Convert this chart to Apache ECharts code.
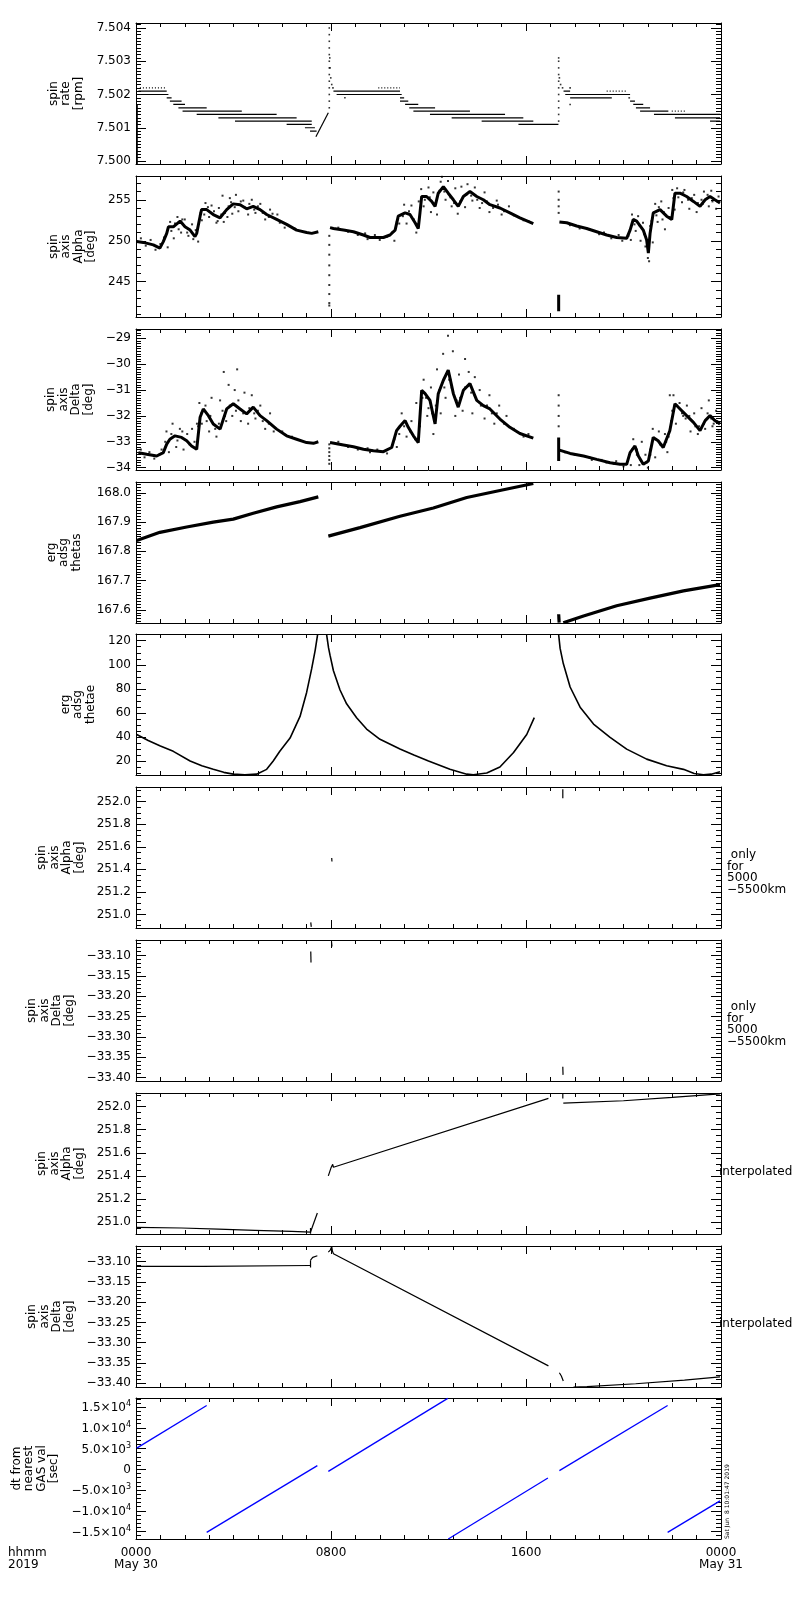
<!DOCTYPE html>
<html>
<head>
<meta charset="utf-8">
<title>ERG spin axis</title>
<script src="https://cdn.jsdelivr.net/npm/echarts@6.0.0/dist/echarts.min.js"></script>
<style>
    html, body { margin: 0; padding: 0; background: #fff; }
    #main { width: 800px; height: 1600px; }
</style>
</head>
<body>
<div id="main"></div>
<script>
// all times are hours since 2019-05-30 00:00
var hourLabels = {0: '0000\nMay 30', 8: '0800', 16: '1600', 24: '0000\nMay 31'};

// panel 1: spin rate, quantised levels  [h start, h end, rpm]
var rateSteps = [
    [0.10, 1.26, 7.5021], [0.16, 1.33, 7.5020], [1.26, 1.46, 7.5019], [1.39, 1.87, 7.5018],
    [1.53, 2.01, 7.5017], [1.74, 2.90, 7.5016], [1.91, 4.34, 7.5015], [2.49, 5.77, 7.5014],
    [3.38, 6.59, 7.5013], [4.06, 7.21, 7.5012], [6.18, 7.21, 7.5011], [6.93, 7.34, 7.5010],
    [7.14, 7.41, 7.5009],
    [8.10, 10.83, 7.5021], [8.23, 10.90, 7.5020], [10.83, 11.00, 7.5019], [10.83, 11.17, 7.5018],
    [11.04, 11.58, 7.5017], [11.21, 12.27, 7.5016], [11.38, 13.70, 7.5015], [12.06, 15.14, 7.5014],
    [12.95, 15.89, 7.5013], [14.18, 16.30, 7.5012], [15.69, 17.33, 7.5011],
    [17.54, 17.81, 7.5021], [17.61, 20.27, 7.5020], [17.81, 19.52, 7.5019], [20.20, 20.27, 7.5019],
    [20.27, 20.47, 7.5018], [20.40, 20.81, 7.5017], [20.51, 21.09, 7.5016], [20.68, 21.84, 7.5015],
    [21.25, 23.96, 7.5014], [22.11, 23.96, 7.5013], [23.55, 23.96, 7.5012]
];
var rateDotted = [[0.16, 1.26, 7.5022], [9.94, 10.83, 7.5022], [19.31, 20.13, 7.5021], [21.98, 22.52, 7.5015]];
var rateLines = [
    [[0.05, 7.49991], [0.05, 7.5017]],
    [[7.38, 7.50073], [7.89, 7.50145]]
];
var rateDots = [
    [7.93, 7.5016], [7.93, 7.5018], [7.93, 7.5020], [7.93, 7.5022], [7.93, 7.5024], [7.93, 7.5026],
    [7.93, 7.5028], [7.93, 7.5030], [7.93, 7.5032], [7.93, 7.5034], [7.93, 7.5036], [7.93, 7.5038],
    [7.93, 7.5040], [7.95, 7.5031], [7.96, 7.5028], [7.99, 7.5025], [8.03, 7.5023], [8.08, 7.5022],
    [8.57, 7.5019],
    [17.34, 7.5012], [17.34, 7.5014], [17.34, 7.5016], [17.34, 7.5018], [17.34, 7.5020], [17.34, 7.5022],
    [17.34, 7.5024], [17.34, 7.5026], [17.34, 7.5028], [17.34, 7.5030], [17.34, 7.5031], [17.37, 7.5025],
    [17.42, 7.5023], [17.50, 7.5022], [17.81, 7.5022], [17.81, 7.5017]
];

// panel 2: spin axis alpha
var alphaTrace = [
    [[0.03, 249.9], [0.30, 249.8], [0.71, 249.5], [0.98, 249.1], [1.12, 249.9], [1.26, 250.9], [1.33, 251.7],
     [1.53, 251.7], [1.81, 252.4], [2.01, 251.7], [2.22, 251.3], [2.42, 250.5], [2.49, 250.9], [2.63, 253.0],
     [2.69, 253.8], [2.90, 253.8], [3.17, 253.2], [3.45, 252.8], [3.72, 253.8], [3.99, 254.5], [4.27, 254.4],
     [4.54, 253.9], [4.81, 254.2], [5.09, 253.8], [5.36, 253.2], [5.77, 252.6], [6.18, 252.0], [6.59, 251.3],
     [7.00, 251.0], [7.21, 250.9], [7.48, 251.1]],
    [[7.96, 251.6], [8.10, 251.5], [8.51, 251.3], [8.92, 251.1], [9.33, 250.7], [9.60, 250.4], [9.87, 250.4],
     [10.15, 250.4], [10.42, 250.7], [10.63, 251.3], [10.76, 253.0], [10.83, 253.0], [11.04, 253.4], [11.24, 253.2],
     [11.45, 252.2], [11.58, 251.5], [11.65, 253.4], [11.72, 255.4], [11.92, 255.4], [12.13, 254.8], [12.27, 254.2],
     [12.40, 255.8], [12.61, 256.6], [12.81, 255.8], [13.02, 255.0], [13.22, 254.2], [13.43, 255.4], [13.70, 256.0],
     [13.98, 255.4], [14.25, 255.0], [14.52, 254.4], [14.93, 254.0], [15.34, 253.4], [15.75, 252.8], [16.30, 252.1]],
    [[17.37, 252.3], [17.67, 252.2], [18.08, 251.8], [18.49, 251.5], [18.90, 251.1], [19.31, 250.7], [19.72, 250.4],
     [20.13, 250.3], [20.27, 251.3], [20.40, 252.6], [20.54, 252.4], [20.81, 251.3], [20.95, 250.1], [21.02, 248.5],
     [21.09, 250.9], [21.22, 253.4], [21.50, 253.8], [21.77, 253.0], [21.98, 252.6], [22.11, 255.8], [22.32, 255.8],
     [22.59, 255.4], [22.87, 254.8], [23.14, 254.2], [23.35, 255.0], [23.55, 255.4], [23.75, 255.0], [23.96, 254.6]],
    [[17.34, 243.4], [17.34, 241.4]]
];
var alphaDots = [
    [1.30, 249.2], [1.40, 252.3], [1.55, 250.3], [1.70, 252.9], [1.85, 251.0], [2.00, 252.6], [2.15, 250.6],
    [2.30, 252.0], [2.55, 249.9], [2.70, 252.5], [2.85, 254.6], [3.00, 252.9], [3.10, 254.3], [3.30, 252.2],
    [3.40, 254.0], [3.55, 255.5], [3.60, 252.3], [3.75, 252.9], [3.85, 255.2], [3.95, 253.3], [4.10, 255.6],
    [4.20, 253.6], [4.40, 254.9], [4.60, 253.2], [4.75, 255.0], [4.90, 253.4], [5.10, 254.5], [5.30, 252.6],
    [5.50, 253.8], [5.80, 253.2], [6.10, 251.6],
    [10.60, 250.0], [10.80, 252.1], [11.00, 254.4], [11.10, 252.1], [11.30, 254.3], [11.50, 251.0], [11.70, 256.3],
    [11.80, 254.2], [12.00, 256.5], [12.10, 253.5], [12.20, 255.9], [12.35, 253.2], [12.50, 257.2], [12.55, 257.8],
    [12.70, 255.0], [12.80, 257.3], [12.95, 254.2], [13.10, 256.4], [13.20, 253.3], [13.35, 256.6], [13.50, 254.1],
    [13.60, 256.9], [13.80, 254.9], [13.90, 256.5], [14.10, 254.0], [14.30, 255.9], [14.50, 253.5], [14.80, 254.9],
    [15.00, 253.2], [15.30, 254.2],
    [20.30, 250.1], [20.35, 253.2], [20.50, 251.2], [20.60, 253.0], [20.70, 250.0], [20.80, 252.2], [20.90, 249.3],
    [21.00, 247.9], [21.05, 247.5], [21.10, 251.8], [21.20, 249.8], [21.30, 254.5], [21.40, 252.3], [21.55, 254.8],
    [21.60, 252.6], [21.70, 251.4], [21.85, 254.0], [22.00, 256.2], [22.10, 253.8], [22.20, 256.4], [22.40, 254.7],
    [22.50, 256.2], [22.70, 253.9], [22.90, 255.6], [23.00, 253.5], [23.20, 255.0], [23.30, 256.0], [23.50, 254.2],
    [23.60, 256.1], [23.80, 253.9], [23.90, 255.4],
    [0.20, 250.3], [0.40, 249.4], [0.60, 250.1], [0.80, 248.9], [1.00, 249.6], [1.15, 250.4], [1.45, 251.2],
    [1.60, 252.1], [1.75, 251.4], [1.90, 252.6], [2.10, 251.0], [2.35, 250.2], [2.45, 251.3], [2.65, 253.4],
    [2.80, 253.2], [2.95, 254.1], [3.20, 253.6], [3.35, 252.4], [3.50, 253.2], [3.65, 253.4], [3.80, 254.2],
    [3.90, 254.7], [4.05, 254.1], [4.30, 254.8], [4.45, 254.1], [4.65, 254.5], [4.85, 253.8], [5.00, 254.2],
    [5.20, 253.4], [5.45, 252.9], [5.60, 253.3], [5.90, 252.2], [6.30, 251.8], [6.50, 251.5],
    [8.30, 251.6], [8.70, 251.1], [9.10, 250.7], [9.40, 250.9], [9.50, 250.2], [9.80, 250.7], [10.00, 250.1],
    [10.30, 250.5], [10.50, 251.0], [10.70, 252.3], [10.95, 253.0], [11.20, 253.6], [11.40, 252.6], [11.60, 254.8],
    [11.85, 255.0], [12.05, 255.3], [12.30, 254.6], [12.45, 256.1], [12.65, 256.0], [12.90, 255.3], [13.05, 254.6],
    [13.30, 254.8], [13.55, 255.6], [13.75, 255.5], [14.00, 255.0], [14.20, 254.6], [14.40, 254.8], [14.65, 254.0],
    [14.85, 254.4], [15.10, 253.6], [15.50, 253.1], [15.90, 252.5], [16.10, 252.4],
    [17.80, 251.9], [18.20, 251.5], [18.60, 251.4], [19.00, 250.8], [19.20, 251.0], [19.50, 250.3], [19.80, 250.7],
    [19.95, 250.0], [20.20, 250.6], [20.45, 252.0], [20.65, 251.9], [20.85, 250.8], [21.15, 252.4], [21.35, 253.1],
    [21.45, 254.1], [21.65, 253.5], [21.90, 252.9], [22.05, 255.2], [22.25, 255.3], [22.45, 255.9], [22.65, 255.0],
    [22.80, 255.2], [23.05, 254.6], [23.25, 254.5], [23.45, 255.6], [23.65, 254.8], [23.85, 254.8],
    [7.93, 250.6], [7.93, 249.5], [7.93, 248.3], [7.93, 247.0], [7.93, 245.8], [7.93, 244.6], [7.93, 243.5],
    [7.93, 242.4], [7.93, 242.1], [17.34, 253.4], [17.34, 254.2], [17.34, 255.0], [17.34, 256.0]
];

// panel 3: spin axis delta
var deltaTrace = [
    [[0.10, -33.42], [0.44, -33.48], [0.85, -33.55], [1.12, -33.42], [1.26, -33.09], [1.39, -32.90], [1.60, -32.77],
     [1.87, -32.83], [2.08, -32.96], [2.28, -33.16], [2.49, -33.29], [2.63, -32.05], [2.76, -31.73], [2.97, -31.99],
     [3.17, -32.31], [3.45, -32.51], [3.72, -31.73], [3.99, -31.53], [4.27, -31.73], [4.54, -31.92], [4.81, -31.66],
     [5.09, -31.99], [5.36, -32.18], [5.77, -32.51], [6.18, -32.77], [6.59, -32.90], [7.00, -33.03], [7.28, -33.06],
     [7.48, -33.00]],
    [[7.96, -33.03], [8.51, -33.12], [8.92, -33.19], [9.33, -33.29], [9.74, -33.35], [10.15, -33.38], [10.49, -33.22],
     [10.69, -32.57], [10.83, -32.40], [11.04, -32.18], [11.17, -32.44], [11.38, -32.77], [11.58, -33.03], [11.72, -31.01],
     [11.86, -31.14], [12.06, -31.40], [12.27, -32.31], [12.40, -31.14], [12.61, -30.62], [12.81, -30.23], [13.02, -31.14],
     [13.22, -31.66], [13.43, -31.01], [13.70, -30.75], [13.98, -31.40], [14.25, -31.60], [14.52, -31.73], [14.93, -32.12],
     [15.34, -32.44], [15.75, -32.68], [16.30, -32.86]],
    [[17.37, -33.32], [17.81, -33.45], [18.36, -33.55], [18.90, -33.68], [19.45, -33.81], [19.86, -33.87], [20.13, -33.87],
     [20.27, -33.42], [20.47, -33.16], [20.61, -33.55], [20.81, -33.87], [21.02, -33.74], [21.22, -32.83], [21.42, -32.96],
     [21.63, -33.22], [21.90, -32.57], [22.11, -31.53], [22.32, -31.73], [22.59, -31.99], [22.87, -32.25], [23.14, -32.57],
     [23.35, -32.18], [23.55, -31.99], [23.75, -32.18], [23.96, -32.31]],
    [[17.34, -32.83], [17.34, -33.74]]
];
var deltaDots = [
    [1.25, -32.6], [1.35, -33.4], [1.50, -32.3], [1.65, -33.2], [1.80, -32.5], [1.95, -33.3], [2.10, -32.7],
    [2.30, -32.5], [2.50, -32.3], [2.60, -31.5], [2.70, -32.3], [2.85, -31.6], [3.00, -32.6], [3.10, -31.3],
    [3.30, -32.8], [3.45, -31.4], [3.60, -30.3], [3.70, -32.2], [3.80, -30.8], [3.95, -32.0], [4.05, -31.0],
    [4.15, -30.2], [4.30, -32.2], [4.45, -31.1], [4.60, -32.3], [4.75, -31.2], [4.90, -32.1], [5.10, -31.6],
    [5.30, -32.5], [5.50, -31.9],
    [10.70, -33.2], [10.90, -31.9], [11.10, -32.8], [11.30, -32.2], [11.50, -31.5], [11.65, -32.4], [11.80, -30.6],
    [11.95, -32.0], [12.10, -30.9], [12.20, -32.7], [12.35, -30.2], [12.50, -31.9], [12.60, -29.6], [12.70, -31.3],
    [12.80, -28.9], [12.90, -30.6], [13.00, -29.5], [13.10, -32.0], [13.25, -30.4], [13.40, -31.8], [13.50, -29.8],
    [13.65, -30.3], [13.80, -31.9], [13.90, -30.5], [14.10, -31.0], [14.30, -32.1], [14.50, -31.2], [14.70, -32.3],
    [14.90, -31.6], [15.20, -32.0],
    [20.30, -33.9], [20.40, -32.9], [20.55, -33.3], [20.65, -33.9], [20.75, -33.0], [20.90, -33.5], [21.00, -34.0],
    [21.10, -33.3], [21.20, -32.5], [21.30, -33.6], [21.45, -32.6], [21.55, -33.1], [21.70, -32.7], [21.80, -33.4],
    [21.95, -32.2], [22.05, -31.2], [22.15, -32.3], [22.30, -31.5], [22.45, -32.0], [22.60, -31.6], [22.75, -32.6],
    [22.90, -31.9], [23.05, -32.7], [23.20, -31.7], [23.35, -32.5], [23.50, -31.4], [23.65, -32.4], [23.80, -31.8],
    [23.90, -32.6], [21.90, -31.2],
    [0.20, -33.3], [0.35, -33.6], [0.55, -33.4], [0.75, -33.65], [0.95, -33.5], [1.05, -33.3], [1.20, -33.0],
    [1.45, -32.7], [1.70, -32.95], [1.90, -32.6], [2.20, -33.1], [2.40, -33.0], [2.55, -32.4], [2.68, -31.9],
    [2.90, -32.2], [3.05, -32.0], [3.25, -32.5], [3.40, -32.3], [3.55, -31.8], [3.65, -32.0], [3.85, -31.6],
    [4.10, -31.8], [4.20, -31.4], [4.40, -31.9], [4.65, -31.7], [4.85, -31.9], [5.00, -31.8], [5.20, -32.2],
    [5.45, -32.3], [5.65, -32.6], [6.00, -32.6], [6.40, -32.8],
    [8.30, -33.0], [8.70, -33.2], [9.10, -33.3], [9.50, -33.25], [9.60, -33.4], [9.90, -33.3], [10.30, -33.45],
    [10.60, -32.9], [10.80, -32.7], [11.00, -32.4], [11.25, -32.6], [11.45, -32.9], [11.75, -31.3], [11.90, -31.3],
    [12.00, -31.7], [12.15, -31.9], [12.30, -31.6], [12.45, -31.0], [12.65, -30.9], [12.85, -30.6], [12.95, -30.9],
    [13.15, -31.4], [13.30, -31.3], [13.50, -30.9], [13.75, -31.1], [13.90, -31.2], [14.15, -31.6], [14.40, -31.6],
    [14.60, -31.9], [14.80, -31.9], [15.10, -32.3], [15.50, -32.5], [15.90, -32.8], [16.10, -32.7],
    [17.60, -33.4], [18.00, -33.5], [18.60, -33.6], [18.70, -33.7], [19.10, -33.7], [19.30, -33.8], [19.60, -33.85],
    [19.70, -33.75], [20.00, -33.95], [20.35, -33.3], [20.55, -33.5], [20.70, -33.7], [20.95, -33.8], [21.10, -33.5],
    [21.30, -32.9], [21.50, -33.1], [21.75, -33.0], [21.85, -32.8], [22.00, -31.8], [22.20, -31.6], [22.40, -31.9],
    [22.55, -32.1], [22.70, -32.0], [22.95, -32.4], [23.10, -32.4], [23.30, -32.3], [23.45, -31.9], [23.60, -32.1],
    [23.70, -32.3], [23.85, -32.2],
    [7.93, -33.10], [7.93, -33.25], [7.93, -33.40], [7.93, -33.55], [7.93, -33.70], [7.93, -33.85],
    [17.34, -31.2], [17.34, -31.6], [17.34, -32.0], [17.34, -32.4]
];

// panel 4: erg adsg thetas
var thetasTrace = [
    [[0.03, 167.837], [0.98, 167.865], [2.08, 167.883], [3.17, 167.900], [3.99, 167.910], [4.81, 167.930],
     [5.77, 167.952], [6.73, 167.970], [7.48, 167.986]],
    [[7.89, 167.852], [9.19, 167.881], [10.83, 167.920], [12.20, 167.948], [13.57, 167.984], [14.93, 168.008],
     [16.30, 168.032]],
    [[17.34, 167.585], [17.36, 167.556]],
    [[17.53, 167.556], [18.36, 167.579], [19.72, 167.614], [21.09, 167.640], [22.46, 167.665], [23.96, 167.686]]
];

// panel 5: erg adsg thetae
var thetaeTrace = [
    [[0.03, 42], [0.50, 37], [1.00, 32.5], [1.53, 28], [2.22, 20], [2.70, 16], [3.17, 13], [3.60, 10.5],
     [3.99, 9], [4.47, 8.5], [4.95, 9], [5.36, 13], [5.63, 20], [5.90, 28], [6.32, 39], [6.73, 57],
     [7.00, 77], [7.21, 97], [7.35, 112], [7.45, 125]],
    [[7.82, 125], [7.90, 114], [7.96, 108], [8.10, 95], [8.37, 79], [8.64, 67.5], [9.05, 56], [9.46, 46.5],
     [10.01, 38], [10.83, 30], [11.40, 25], [12.00, 20], [12.88, 13], [13.57, 9], [13.84, 8.5], [14.39, 10],
     [14.93, 15], [15.49, 27], [16.03, 42], [16.34, 56]],
    [[17.34, 125], [17.40, 113.6], [17.53, 101], [17.81, 81.5], [18.22, 64.7], [18.77, 50.7], [19.45, 39.6],
     [20.13, 29.8], [20.95, 21.5], [21.77, 16], [22.46, 13], [22.90, 9.5], [23.28, 8.5], [23.60, 9], [23.96, 11]]
];

// panels 6, 7: only for 5000-5500 km
var alphaShell = [
    [[7.17, 250.93], [7.19, 250.89]], [[8.03, 251.50], [8.04, 251.47]], [[17.51, 252.11], [17.51, 252.03]]
];
var deltaShell = [
    [[7.17, -33.090], [7.18, -33.117]], [[8.02, -33.066], [8.04, -33.078]], [[17.51, -33.373], [17.52, -33.393]]
];

// panels 8, 9: interpolated
var alphaInterp = [
    [[0.03, 250.956], [1.87, 250.950], [1.87, 250.945], [3.38, 250.940], [3.38, 250.936], [4.88, 250.930],
     [4.88, 250.927], [6.39, 250.920], [6.39, 250.915], [7.16, 250.915]],
    [[7.16, 250.950], [7.16, 250.900]],
    [[7.16, 250.915], [7.44, 251.080]],
    [[7.89, 251.40], [8.00, 251.47], [8.07, 251.50], [8.10, 251.475], [16.92, 252.07]],
    [[17.51, 252.11], [17.51, 252.07]],
    [[17.53, 252.03], [20.00, 252.05], [22.00, 252.08], [23.96, 252.11]]
];
var deltaInterp = [
    [[0.03, -33.112], [2.76, -33.112], [2.76, -33.110], [7.16, -33.110]],
    [[7.16, -33.115], [7.16, -33.097]],
    [[7.16, -33.097], [7.25, -33.090], [7.44, -33.086]],
    [[7.89, -33.077], [7.97, -33.072], [8.03, -33.063], [8.06, -33.075], [8.10, -33.081], [16.92, -33.357]],
    [[17.37, -33.374], [17.45, -33.382], [17.53, -33.394]],
    [[17.95, -33.409], [18.50, -33.408], [20.50, -33.401], [22.50, -33.392], [23.96, -33.384]]
];

// panel 10: dt from nearest GAS value [sec]
var dtTrace = [
    [[0.03, 5100], [2.90, 15400]],
    [[2.90, -15200], [7.44, 900]],
    [[7.89, -500], [12.79, 17100]],
    [[12.81, -16800], [16.90, -2100]],
    [[17.37, -300], [21.81, 15400]],
    [[21.81, -15200], [23.96, -7600]]
];

function ticks(a, b, step) {
    var out = [], n = Math.round((b - a) / step);
    for (var i = 0; i <= n; i++) out.push(+(a + i * step).toFixed(6));
    return out;
}

var panels = [
    {name: 'spin\nrate\n[rpm]', min: 7.49991, max: 7.50415, major: ticks(7.500, 7.504, 0.001), minor: ticks(7.5000, 7.5041, 0.0001), dec: 3, gap: 51},
    {name: 'spin\naxis\nAlpha\n[deg]', min: 240.7, max: 257.9, major: ticks(245, 255, 5), minor: ticks(241, 257, 1), dec: 0, gap: 38},
    {name: 'spin\naxis\nDelta\n[deg]', min: -34.09, max: -28.64, major: ticks(-34, -29, 1), minor: ticks(-34, -28.7, 0.1), dec: 0, gap: 39},
    {name: 'erg\nadsg\nthetas', min: 167.555, max: 168.037, major: ticks(167.6, 168.0, 0.1), minor: ticks(167.56, 168.03, 0.01), dec: 1, gap: 53},
    {name: 'erg\nadsg\nthetae', min: 8.3, max: 125.6, major: ticks(20, 120, 20), minor: ticks(10, 125, 5), dec: 0, gap: 39},
    {name: 'spin\naxis\nAlpha\n[deg]', min: 250.88, max: 252.13, major: ticks(251.0, 252.0, 0.2), minor: ticks(250.9, 252.1, 0.05), dec: 1, gap: 50},
    {name: 'spin\naxis\nDelta\n[deg]', min: -33.408, max: -33.062, major: ticks(-33.40, -33.10, 0.05), minor: ticks(-33.40, -33.07, 0.01), dec: 2, gap: 60},
    {name: 'spin\naxis\nAlpha\n[deg]', min: 250.898, max: 252.117, major: ticks(251.0, 252.0, 0.2), minor: ticks(250.9, 252.1, 0.05), dec: 1, gap: 50},
    {name: 'spin\naxis\nDelta\n[deg]', min: -33.409, max: -33.062, major: ticks(-33.40, -33.10, 0.05), minor: ticks(-33.40, -33.07, 0.01), dec: 2, gap: 60},
    {name: 'dt from\nnearest\nGAS val\n[sec]', min: -16800, max: 17200, major: ticks(-15000, 15000, 5000), minor: ticks(-16000, 17000, 1000), dec: -1, gap: 75}
];
var tops = [23, 176, 329, 482, 634, 787, 940, 1093, 1246, 1398];

var FONT = '"DejaVu Sans", sans-serif';
var BLACK = '#000';

function fixed(v, d) {
    return (v < -1e-12 ? '\u2212' : '') + Math.abs(v).toFixed(d);
}
function sci(v) {
    if (Math.abs(v) < 1e-9) return '{n|0}';
    var e = Math.floor(Math.log10(Math.abs(v)) + 1e-9);
    var m = Math.abs(v) / Math.pow(10, e);
    return '{n|' + (v < 0 ? '\u2212' : '') + m.toFixed(1) + '\u00d710}{s|' + e + '}';
}

var grids = [], xAxes = [], yAxes = [], series = [];
var hourTicks = ticks(0, 24, 1);

function xAxis(i, pos, major) {
    var last = (i === 9 && pos === 'bottom' && !major);
    return {
        gridIndex: i, type: 'value', min: 0, max: 24, position: pos,
        splitLine: {show: false},
        axisLine: {show: !major, onZero: false, lineStyle: {color: BLACK, width: 1}},
        axisTick: {inside: true, length: major ? 8 : 4, customValues: major ? [8, 16] : hourTicks,
                   lineStyle: {color: BLACK, width: 1}},
        axisLabel: last ? {
            show: true, customValues: [0, 8, 16, 24], margin: 8, color: BLACK,
            fontFamily: FONT, fontSize: 12, lineHeight: 12,
            formatter: function (v) { return hourLabels[Math.round(v)]; }
        } : {show: false}
    };
}
function yAxis(i, pos, major) {
    var p = panels[i];
    var labelled = (pos === 'left' && major);
    var ax = {
        gridIndex: i, type: 'value', min: p.min, max: p.max, position: pos,
        splitLine: {show: false},
        axisLine: {show: major, onZero: false, lineStyle: {color: BLACK, width: 1}},
        axisTick: {inside: true, length: major ? 10 : 5, customValues: major ? p.major : p.minor,
                   lineStyle: {color: BLACK, width: 1}},
        axisLabel: {show: false}
    };
    if (labelled) {
        ax.axisLabel = {
            show: true, customValues: p.major, margin: 5, color: BLACK,
            fontFamily: FONT, fontSize: 12,
            formatter: function (v) { return p.dec < 0 ? sci(v) : fixed(v, p.dec); },
            rich: {
                n: {fontFamily: FONT, fontSize: 12, color: BLACK, lineHeight: 14, verticalAlign: 'bottom'},
                s: {fontFamily: FONT, fontSize: 8, color: BLACK, lineHeight: 14, verticalAlign: 'top'}
            }
        };
        ax.name = p.name;
        ax.nameLocation = 'middle';
        ax.nameRotate = 90;
        ax.nameGap = p.gap;
        ax.nameTextStyle = {fontFamily: FONT, fontSize: 12, lineHeight: 12.5, color: BLACK};
    }
    return ax;
}

function lineS(i, data, width, color, dash) {
    return {
        type: 'line', xAxisIndex: 4 * i, yAxisIndex: 4 * i, data: data,
        symbol: 'none', showSymbol: false, silent: true, animation: false,
        lineStyle: {color: color || BLACK, width: width || 1, type: dash || 'solid'}
    };
}
function dotS(i, data, size) {
    return {
        type: 'scatter', xAxisIndex: 4 * i, yAxisIndex: 4 * i, data: data,
        symbol: 'rect', symbolSize: size || 1.6, silent: true, animation: false,
        itemStyle: {color: BLACK}
    };
}

panels.forEach(function (p, i) {
    grids.push({left: 136, width: 585, top: tops[i], height: 141, outerBoundsMode: 'none'});
    xAxes.push(xAxis(i, 'bottom', false), xAxis(i, 'bottom', true), xAxis(i, 'top', false), xAxis(i, 'top', true));
    yAxes.push(yAxis(i, 'left', true), yAxis(i, 'left', false), yAxis(i, 'right', true), yAxis(i, 'right', false));
});

// panel 1
rateSteps.forEach(function (s) { series.push(lineS(0, [[s[0], s[2]], [s[1], s[2]]], 1.2)); });
rateDotted.forEach(function (s) { series.push(lineS(0, [[s[0], s[2]], [s[1], s[2]]], 1.2, BLACK, [1, 2])); });
rateLines.forEach(function (s) { series.push(lineS(0, s, 1.2)); });
series.push(dotS(0, rateDots, 1.6));
// panel 2, 3
alphaTrace.forEach(function (s) { series.push(lineS(1, s, 3)); });
series.push(dotS(1, alphaDots, 2));
deltaTrace.forEach(function (s) { series.push(lineS(2, s, 3)); });
series.push(dotS(2, deltaDots, 2));
// panel 4, 5
thetasTrace.forEach(function (s) { series.push(lineS(3, s, 3.2)); });
thetaeTrace.forEach(function (s) { series.push(lineS(4, s, 1.6)); });
// panel 6 - 9
alphaShell.forEach(function (s) { series.push(lineS(5, s, 1.2)); });
deltaShell.forEach(function (s) { series.push(lineS(6, s, 1.2)); });
alphaInterp.forEach(function (s) { series.push(lineS(7, s, 1.2)); });
deltaInterp.forEach(function (s) { series.push(lineS(8, s, 1.2)); });
// panel 10
dtTrace.forEach(function (s) { series.push(lineS(9, s, 1.3, '#0000ff')); });

function txt(text, x, y, opts) {
    var st = {text: text, x: x, y: y, fill: BLACK, font: (opts.size || 12) + 'px ' + FONT,
              align: opts.align || 'left', verticalAlign: opts.va || 'top', lineHeight: opts.lh || 12};
    return {type: 'text', x: 0, y: 0, rotation: opts.rot || 0, style: st, silent: true};
}

var graphics = [
    txt(' only\nfor\n5000\n\u22125500km', 727, 849, {lh: 11.7}),
    txt(' only\nfor\n5000\n\u22125500km', 727, 1001, {lh: 11.7}),
    txt('interpolated', 719, 1172, {va: 'middle'}),
    txt('interpolated', 719, 1324, {va: 'middle'}),
    txt('hhmm\n2019', 8, 1547, {lh: 12}),
    {type: 'text', x: 727, y: 1539, rotation: Math.PI / 2, silent: true,
     style: {text: 'Sat Jun  8 10:01:47 2019', x: 0, y: 0, fill: BLACK, font: '6px ' + FONT,
             align: 'left', verticalAlign: 'middle'}}
];

var chart = echarts.init(document.getElementById('main'), null, {renderer: 'canvas'});
chart.setOption({
    animation: false,
    backgroundColor: '#fff',
    grid: grids,
    xAxis: xAxes,
    yAxis: yAxes,
    series: series,
    graphic: graphics
});
</script>
</body>
</html>
